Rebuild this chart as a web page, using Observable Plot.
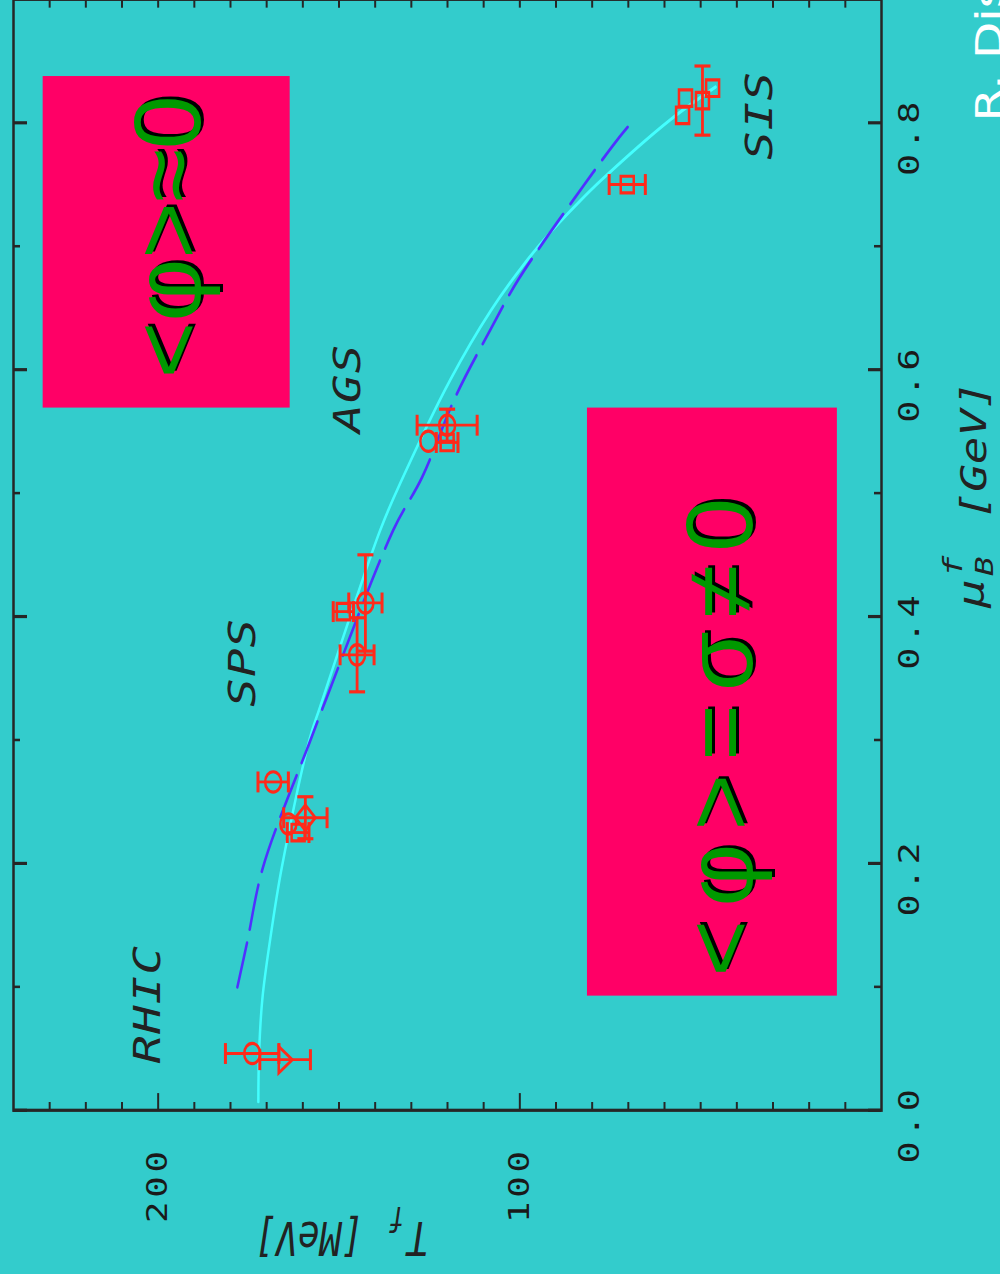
<!DOCTYPE html>
<html><head><meta charset="utf-8">
<script src="https://cdn.jsdelivr.net/npm/d3@7"></script>
<script src="https://cdn.jsdelivr.net/npm/@observablehq/plot@0.6"></script>
<style>
html,body{margin:0;padding:0;background:#33cccc;width:1000px;height:1274px;overflow:hidden;}
#wrap{position:absolute;left:0;top:0;width:1000px;height:1000px;transform-origin:0 0;transform:translate(0px,1274px) scale(1,1.274) rotate(-90deg);}
</style></head>
<body><div id="wrap"></div>
<script>
// ---- axis ticks ----
const muTicks = [0, 0.1, 0.2, 0.3, 0.4, 0.5, 0.6, 0.7, 0.8];
const muTickLabels = [0, 0.2, 0.4, 0.6, 0.8];
const tTicks = [10, 20, 30, 40, 50, 60, 70, 80, 90, 100, 110, 120, 130, 140, 150, 160, 170, 180, 190, 200, 210, 220, 230];
const tTickLabels = [100, 200];

// ---- data points (mu_B [GeV], T [MeV]) ----
const pointMu    = [0.046, 0.041, 0.266, 0.237, 0.232, 0.225, 0.411, 0.369, 0.404, 0.555, 0.542, 0.541, 0.750, 0.820, 0.806, 0.818, 0.828];
const pointT     = [174.0, 164.9, 168.2, 159.3, 164.0, 161.3, 142.7, 145.0, 148.8, 120.1, 125.3, 120.1, 70.3, 54.2, 55.0, 49.5, 46.7];
const pointErrT  = [7.4, 7.0, 4.2, 6.0, 0, 3.0, 4.6, 4.7, 2.8, 8.3, 0, 3.0, 5.0, 0, 0, 0, 0];
const pointErrMu = [0, 0, 0, 0.017, 0, 0, 0.039, 0.030, 0, 0.013, 0, 0, 0, 0, 0, 0.028, 0];
const pointShape = ["circle", "triDown", "circle", "diamond", "circle", "square", "circle", "circle", "square", "circle", "circle", "square", "square", "square", "square", "square", "square"];

// ---- curves ----
const cyanMu = [0.007, 0.046, 0.090, 0.139, 0.197, 0.300, 0.327, 0.470, 0.511, 0.592, 0.648, 0.686, 0.711, 0.735, 0.754, 0.802, 0.829];
const cyanT  = [172.3, 172.1, 171.2, 169.0, 165.8, 158.2, 155.2, 138.6, 132.6, 119.2, 108.0, 98.7, 91.6, 83.9, 77.3, 58.6, 45.9];
const blueMu = [0.0998, 0.136, 0.197, 0.299, 0.335, 0.470, 0.513, 0.578, 0.632, 0.673, 0.749, 0.786, 0.801];
const blueT  = [178.1, 175.4, 171.0, 158.0, 153.3, 135.0, 127.0, 117.8, 108.2, 100.4, 82.4, 73.1, 68.9];

// ---- annotations ----
const siteNames = ["RHIC", "SPS", "AGS", "SIS"];
const siteMu = [0.086, 0.363, 0.585, 0.806];
const siteT  = [199.4, 173.2, 144.1, 30.2];

const boxTexts = ["<φ>≈0", "<φ>=σ≠0"];
const boxMu1 = [0.5698, 0.0934];
const boxMu2 = [0.8384, 0.5698];
const boxT1  = [163.5, 12.2];
const boxT2  = [231.8, 81.3];
const boxTextMu = [0.7077, 0.3077];
const boxTextT  = [188.4, 35.7];

// ---- build tables ----
const points = pointMu.map((m, i) => ({mu: m, T: pointT[i], eT: pointErrT[i], eMu: pointErrMu[i], shape: pointShape[i]}));
const cyan = cyanMu.map((m, i) => ({mu: m, T: cyanT[i]}));
const blue = blueMu.map((m, i) => ({mu: m, T: blueT[i]}));
const sites = siteNames.map((n, i) => ({name: n, mu: siteMu[i], T: siteT[i]}));
const boxes = boxTexts.map((t, i) => ({text: t, x1: boxMu1[i], x2: boxMu2[i], y1: boxT1[i], y2: boxT2[i], tx: boxTextMu[i], ty: boxTextT[i]}));
const errT = points.filter(d => d.eT > 0);
const errTcaps = errT.flatMap(d => [{mu: d.mu, T: d.T - d.eT}, {mu: d.mu, T: d.T + d.eT}]);
const errMu = points.filter(d => d.eMu > 0);
const errMucaps = errMu.flatMap(d => [{mu: d.mu - d.eMu, T: d.T}, {mu: d.mu + d.eMu, T: d.T}]);

// ---- symbols ----
const rOf = s => Math.sqrt(s / Math.PI);
const hCap = {draw(c, s) { const r = rOf(s); c.moveTo(-r, 0); c.lineTo(r, 0); }};
const vCap = {draw(c, s) { const r = rOf(s); c.moveTo(0, -r); c.lineTo(0, r); }};
const symCircle = {draw(c, s) { const r = rOf(s); c.moveTo(r, 0); c.arc(0, 0, r, 0, 2 * Math.PI); c.closePath(); }};
const symSquare = {draw(c, s) { const r = rOf(s); c.moveTo(-r, -r); c.lineTo(r, -r); c.lineTo(r, r); c.lineTo(-r, r); c.closePath(); }};
const symDiamond = {draw(c, s) { const r = rOf(s) * 1.25; c.moveTo(0, -r); c.lineTo(r, 0); c.lineTo(0, r); c.lineTo(-r, 0); c.closePath(); }};
const symTriDown = {draw(c, s) { const r = rOf(s); c.moveTo(-1.3 * r, -0.8 * r); c.lineTo(1.3 * r, -0.8 * r); c.lineTo(0, 0.9 * r); c.closePath(); }};
const symbolOf = {circle: symCircle, square: symSquare, diamond: symDiamond, triDown: symTriDown};

// ---- layout ----
const W = 1000, H = 1000, mL = 128, mR = 0, mT = 13, mB = 119;
const FW = W - mL - mR, FH = H - mT - mB;
const AX = "#262626", RED = "#ff2a1a", MONO = "DejaVu Sans Mono";

const markers = Object.keys(symbolOf).map(k =>
  Plot.dot(points.filter(d => d.shape === k), {x: "mu", y: "T", symbol: symbolOf[k], r: k === "circle" ? 8 : (k === "square" ? 6.5 : 8), stroke: RED, strokeWidth: 2.5, fill: "none"}));

const boxTextOpts = {x: "tx", y: "ty", text: "text", fontSize: 95, fontFamily: "Liberation Sans", lineAnchor: "bottom", textAnchor: "middle"};

const chart = Plot.plot({
  width: W, height: H,
  marginLeft: mL, marginRight: mR, marginTop: mT, marginBottom: mB,
  style: {background: "transparent", overflow: "visible"},
  x: {domain: [0, 0.9]},
  y: {domain: [0, 240]},
  marks: [
    Plot.rect(boxes, {x1: "x1", x2: "x2", y1: "y1", y2: "y2", fill: "#ff0066"}),
    // ticks (inward)
    Plot.tickX(muTicks.filter(v => !muTickLabels.includes(v)), {x: d => d, insetTop: FH - 7, stroke: AX, strokeWidth: 2}),
    Plot.tickX(muTickLabels, {x: d => d, insetTop: FH - 13, stroke: AX, strokeWidth: 2.5}),
    Plot.tickX(muTicks.filter(v => !muTickLabels.includes(v)), {x: d => d, insetBottom: FH - 7, stroke: AX, strokeWidth: 2}),
    Plot.tickX(muTickLabels, {x: d => d, insetBottom: FH - 14, stroke: AX, strokeWidth: 2.5}),
    Plot.tickY(tTicks.filter(v => !tTickLabels.includes(v)), {y: d => d, insetRight: FW - 7, stroke: AX, strokeWidth: 2}),
    Plot.tickY(tTickLabels, {y: d => d, insetRight: FW - 14, stroke: AX, strokeWidth: 2}),
    Plot.tickY(tTicks, {y: d => d, insetLeft: FW - 6, stroke: AX, strokeWidth: 2}),
    Plot.frame({stroke: AX, strokeWidth: 2.5}),
    // tick labels
    Plot.axisX(muTickLabels, {anchor: "bottom", tickSize: 0, tickPadding: 17, tickFormat: d => d.toFixed(1), fontSize: 29, fontFamily: MONO, fill: "#1a1a1a", dx: -11, label: null}),
    Plot.axisY(tTickLabels, {anchor: "left", tickSize: 0, tickPadding: 29, tickFormat: d => String(d), fontSize: 28, fontFamily: MONO, fill: "#1a1a1a", label: null}),
    // curves
    Plot.line(cyan, {x: "mu", y: "T", stroke: "#44ffff", strokeWidth: 2.5, curve: "catmull-rom"}),
    Plot.line(blue, {x: "mu", y: "T", stroke: "#5030ff", strokeWidth: 2.5, strokeDasharray: "36,11", curve: "catmull-rom"}),
    // error bars
    Plot.ruleX(errT, {x: "mu", y1: d => d.T - d.eT, y2: d => d.T + d.eT, stroke: RED, strokeWidth: 2.2}),
    Plot.dot(errTcaps, {x: "mu", y: "T", symbol: hCap, r: 8.2, stroke: RED, strokeWidth: 3}),
    Plot.ruleY(errMu, {y: "T", x1: d => d.mu - d.eMu, x2: d => d.mu + d.eMu, stroke: RED, strokeWidth: 2.8}),
    Plot.dot(errMucaps, {x: "mu", y: "T", symbol: vCap, r: 8, stroke: RED, strokeWidth: 2.5}),
    ...markers,
    // site labels
    Plot.text(sites, {x: "mu", y: "T", text: "name", fontSize: 37, fontFamily: MONO, fontStyle: "italic", fill: "#222", lineAnchor: "bottom", textAnchor: "middle"}),
    // box texts (shadow + green)
    Plot.text(boxes, {...boxTextOpts, fill: "#000", dx: 2, dy: 3}),
    Plot.text(boxes, {...boxTextOpts, fill: "#009900"}),
    // x-axis label: mu_B^f [GeV]
    Plot.text(["μ"], {x: () => 0.4185, text: d => d, frameAnchor: "bottom", dy: 102, lineAnchor: "bottom", textAnchor: "middle", fontSize: 36, fontFamily: MONO, fontStyle: "italic", fill: "#222"}),
    Plot.text(["B"], {x: () => 0.4408, text: d => d, frameAnchor: "bottom", dy: 111, lineAnchor: "bottom", textAnchor: "middle", fontSize: 25, fontFamily: MONO, fontStyle: "italic", fill: "#222"}),
    Plot.text(["f"], {x: () => 0.4408, text: d => d, frameAnchor: "bottom", dy: 80, lineAnchor: "bottom", textAnchor: "middle", fontSize: 27, fontFamily: MONO, fontStyle: "italic", fill: "#222"}),
    Plot.text(["[GeV]"], {x: () => 0.5346, text: d => d, frameAnchor: "bottom", dy: 104, lineAnchor: "bottom", textAnchor: "middle", fontSize: 36, fontFamily: MONO, fontStyle: "italic", fill: "#222"}),
    // y-axis label: T_f [MeV]
    Plot.text(["T"], {y: () => 128.2, text: d => d, frameAnchor: "left", dx: -88, rotate: -90, lineAnchor: "bottom", textAnchor: "middle", fontSize: 36, fontFamily: MONO, fontStyle: "italic", fill: "#222"}),
    Plot.text(["f"], {y: () => 133.9, text: d => d, frameAnchor: "left", dx: -76, rotate: -90, lineAnchor: "bottom", textAnchor: "middle", fontSize: 26, fontFamily: MONO, fontStyle: "italic", fill: "#222"}),
    Plot.text(["[MeV]"], {y: () => 158.4, text: d => d, frameAnchor: "left", dx: -88, rotate: -90, lineAnchor: "bottom", textAnchor: "middle", fontSize: 36, fontFamily: MONO, fontStyle: "italic", fill: "#222"}),
    // cut-off caption
    Plot.text(["R. Dis"], {x: () => 0.801, text: d => d, frameAnchor: "bottom", dy: 120, lineAnchor: "bottom", textAnchor: "start", fontSize: 38, fontFamily: "DejaVu Sans", fill: "#ffffff"})
  ]
});
document.getElementById("wrap").appendChild(chart);

// text fine-tuning (letter spacing, condensed box texts)
const svg = d3.select(chart);
const tickStrings = muTickLabels.map(d => d.toFixed(1)).concat(tTickLabels.map(String));
svg.selectAll("text").each(function () {
  const s = this.textContent;
  if (tickStrings.includes(s)) this.setAttribute("letter-spacing", "3px");
  if (siteNames.includes(s)) this.setAttribute("letter-spacing", "1px");
  if (boxTexts.includes(s)) {
    if (s === boxTexts[1]) this.setAttribute("letter-spacing", "13px");
    let t = this.getAttribute("transform");
    if (!t) {
      const x = +this.getAttribute("x") || 0, y = +this.getAttribute("y") || 0;
      this.removeAttribute("x"); this.removeAttribute("y");
      t = `translate(${x},${y})`;
    }
    this.setAttribute("transform", t + " scale(0.8,1)");
  }
});
</script>
</body></html>
